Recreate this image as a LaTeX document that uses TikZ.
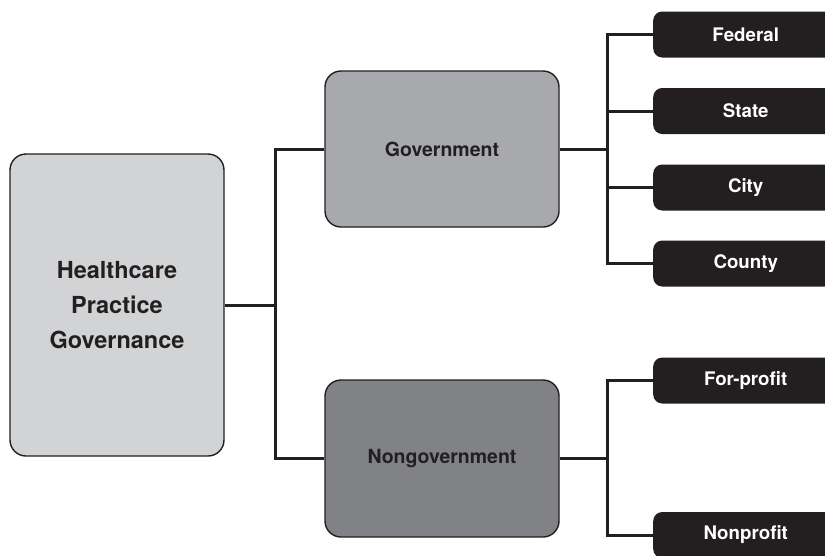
\documentclass[tikz,border=0pt]{standalone}
\usepackage{fontspec}
\setmainfont{TeX Gyre Heros}
\definecolor{ink}{HTML}{231F20}
\definecolor{rootfill}{HTML}{D1D3D4}
\definecolor{govfill}{HTML}{A7A9AC}
\definecolor{ngfill}{HTML}{808285}
\tikzset{
  box/.style={draw=ink, line width=1.4pt, rounded corners=16pt, inner sep=0pt,
    align=center, text=ink, font=\bfseries\fontsize{19.5}{23}\selectfont},
  leaf/.style={fill=ink, rounded corners=9pt, inner sep=0pt,
    minimum width=185pt, minimum height=46pt, text=white,
    font=\bfseries\fontsize{18.7}{22}\selectfont},
  conn/.style={draw=ink, line width=3pt}
}
\begin{document}
\begin{tikzpicture}[x=1pt, y=-1pt]
\useasboundingbox (0,0) rectangle (825,555);
\clip (0,0) rectangle (825,555);

% main entity
\node[box, fill=rootfill, minimum width=214pt, minimum height=302pt,
      font=\bfseries\fontsize{23.5}{35}\selectfont] (root) at (117,305)
  {Healthcare\\Practice\\Governance};

% second level
\node[box, fill=govfill, minimum width=234pt, minimum height=156pt] (gov) at (442,149) {Government};
\node[box, fill=ngfill, minimum width=234pt, minimum height=157pt] (ngov) at (442,458.5) {Nongovernment};

% third level (boxes run past the right edge)
\node[leaf, anchor=west] (fed)    at (653,34.5) {Federal};
\node[leaf, anchor=west] (state)  at (653,111)  {State};
\node[leaf, anchor=west] (city)   at (653,187.5){City};
\node[leaf, anchor=west] (county) at (653,263.5){County};
\node[leaf, anchor=west] (fp)     at (653,380.5){For-profit};
\node[leaf, anchor=west] (np)     at (653,535)  {Nonprofit};

% junction points of the connectors
\coordinate (j1) at (275,305);
\coordinate (j2) at (607,149);
\coordinate (j3) at (607,458.5);

\draw[conn] (root.east) -- (j1);
\draw[conn] (gov.west) -| (j1) |- (ngov.west);

\draw[conn] (gov.east) -- (j2);
\draw[conn] (fed.west) -| (j2) |- (county.west);
\draw[conn] (state.west) -| (j2);
\draw[conn] (city.west) -| (j2);

\draw[conn] (ngov.east) -- (j3);
\draw[conn] (fp.west) -| (j3) |- (np.west);
\end{tikzpicture}
\end{document}
